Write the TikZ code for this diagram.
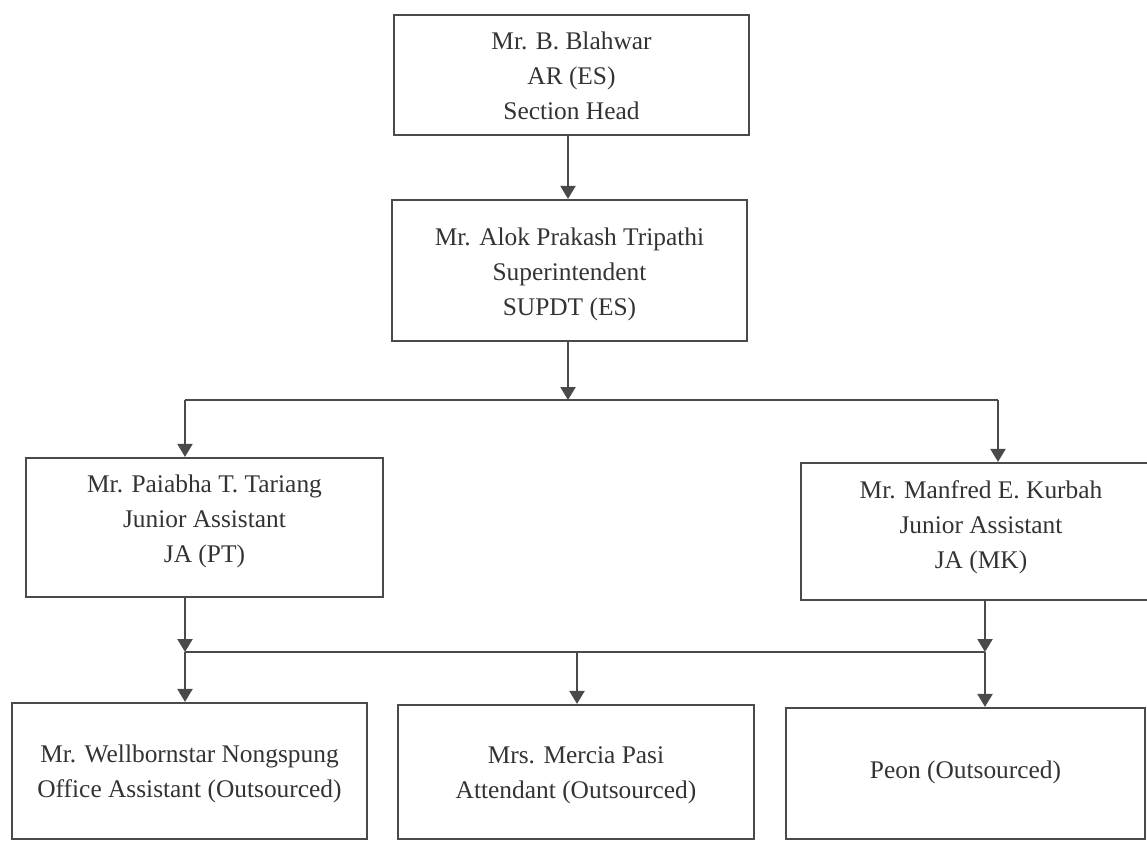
\documentclass[tikz,border=0pt]{standalone}
\usepackage{fontspec}
\setmainfont{Liberation Serif}
\usetikzlibrary{arrows.meta,calc}
\definecolor{linec}{HTML}{4A4A4A}
\definecolor{textc}{HTML}{333333}
\begin{document}
\begin{tikzpicture}[x=1pt,y=-1pt,
  box/.style={draw=linec,line width=2.2pt,rectangle,inner sep=0pt},
  txt/.style={text=textc,align=center,font=\fontsize{25.4}{35}\selectfont,inner sep=0pt,anchor=base},
  arr/.style={draw=linec,line width=2.2pt,-{Triangle[width=15pt,length=13pt]}},
  ln/.style={draw=linec,line width=2.2pt}]
\useasboundingbox (0,0) rectangle (1147,841);
% boxes
\node[box,minimum width=355pt,minimum height=120pt] (b1) at (571.5,75) {};
\node[box,minimum width=355pt,minimum height=141pt] (b2) at (569.5,270.5) {};
\node[box,minimum width=357pt,minimum height=139pt] (b3) at (204.5,527.5) {};
\node[box,minimum width=370pt,minimum height=137pt] (b4) at (986,531.5) {};
\node[box,minimum width=355pt,minimum height=136pt] (b5) at (189.5,771) {};
\node[box,minimum width=356pt,minimum height=134pt] (b6) at (576,772) {};
\node[box,minimum width=359pt,minimum height=131pt] (b7) at (965.5,773.5) {};
% texts (anchored at the baseline of the last line)
\node[txt] (t1) at (571.5,119) {Mr. B. Blahwar\\AR (ES)\\Section Head};
\node[txt] (t2) at (569.5,315) {Mr. Alok Prakash Tripathi\\Superintendent\\SUPDT (ES)};
\node[txt] (t3) at (204.5,562) {Mr. Paiabha T. Tariang\\Junior Assistant\\JA (PT)};
\node[txt] (t4) at (981,568) {Mr. Manfred E. Kurbah\\Junior Assistant\\JA (MK)};
\node[txt] (t5) at (189.5,797) {Mr. Wellbornstar Nongspung\\Office Assistant (Outsourced)};
\node[txt] (t6) at (576,798) {Mrs. Mercia Pasi\\Attendant (Outsourced)};
\node[txt] (t7) at (965.5,778) {Peon (Outsourced)};
% junctions
\coordinate (j1) at (568,400);
\coordinate (j1l) at (185,400);
\coordinate (j1r) at (998,400);
\coordinate (j2l) at (185,652);
\coordinate (j2m) at (577,652);
\coordinate (j2r) at (985,652);
% connectors
\draw[arr] (b1.south -| j1) -- (b2.north -| j1);
\draw[arr] (b2.south -| j1) -- (j1);
\draw[ln] (j1l) -- (j1r);
\draw[arr] (j1l) -- (b3.north -| j1l);
\draw[arr] (j1r) -- (b4.north -| j1r);
\draw[arr] (b3.south -| j2l) -- (j2l);
\draw[arr] (b4.south -| j2r) -- (j2r);
\draw[ln] (j2l) -- (j2r);
\draw[arr] (j2l) -- (b5.north -| j2l);
\draw[arr] (j2m) -- (b6.north -| j2m);
\draw[arr] (j2r) -- (b7.north -| j2r);
\end{tikzpicture}
\end{document}
